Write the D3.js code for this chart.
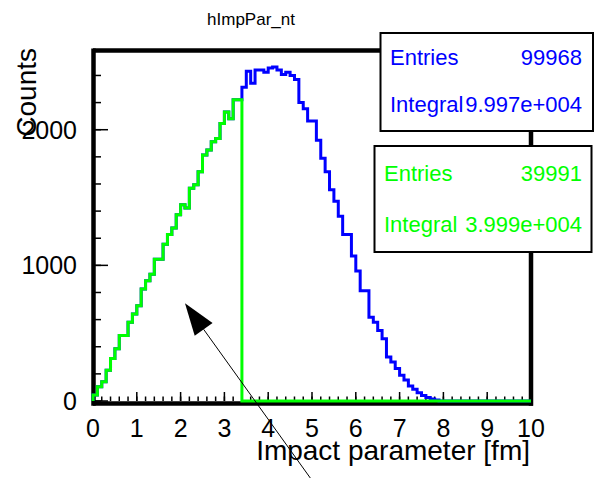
<!DOCTYPE html>
<html>
<head>
<meta charset="utf-8">
<script src="https://cdn.jsdelivr.net/npm/d3@7"></script>
<style>
  body { margin: 0; background: #fff; }
  svg { display: block; font-family: "Liberation Sans", Arial, sans-serif; }
</style>
</head>
<body>
<svg id="chart" width="594" height="478"></svg>
<script>
"use strict";

// histogram binning (100 bins, 0..10 fm)
const binLow = 0;
const binHigh = 10;
const nBins = 100;

// green histogram: bins 0..33 (b < 3.4), empty above
const greenCounts = [44, 105, 142, 227, 313, 386, 483, 483, 581, 642,
    703, 825, 886, 935, 1045, 1045, 1155, 1228, 1276, 1374,
    1447, 1423, 1569, 1594, 1691, 1814, 1850, 1911, 1935, 2045,
    2131, 2080, 2221, 2221];

// blue histogram above the cut: bins 34..78 (same as green below)
const blueUpper = [2313, 2431, 2343, 2441, 2441, 2424, 2455, 2462, 2441, 2407,
    2424, 2400, 2370, 2200, 2155, 2065, 2065, 1923, 1789, 1691,
    1557, 1472, 1362, 1228, 1228, 1069, 959, 813, 813, 617,
    581, 520, 459, 324, 288, 239, 190, 154, 110, 86,
    61, 40, 25, 15, 8];

const xTickValues = [0, 1, 2, 3, 4, 5, 6, 7, 8, 9, 10];
const yTickValues = [0, 1000, 2000];

const statsBlue = [["Entries", "99968"], ["Integral", "9.997e+004"]];
const statsGreen = [["Entries", "39991"], ["Integral", "3.999e+004"]];

// arrow annotation, in data units: [x, y]
const arrowTail = [5.0, -585];
const arrowTip = [2.1, 720];

const yMax = 2584;

function padBins(arr) {
    const out = arr.slice();
    while (out.length < nBins) out.push(0);
    return out;
}

const blueCounts = padBins(greenCounts.concat(blueUpper));
const greenFull = padBins(greenCounts);

const svg = d3.select("#chart");
const frame = { left: 93, right: 531, top: 50.5, bottom: 401 };

const x = d3.scaleLinear().domain([binLow, binHigh]).range([frame.left, frame.right]);
const y = d3.scaleLinear().domain([0, yMax]).range([frame.bottom, frame.top]);

// frame
const fr = svg.append("g").attr("stroke", "#000").attr("stroke-width", 4.5);
fr.append("line").attr("x1", frame.left).attr("x2", frame.right + 2)
    .attr("y1", frame.top).attr("y2", frame.top);
fr.append("line").attr("x1", frame.left).attr("x2", frame.right + 2)
    .attr("y1", frame.bottom + 2.5).attr("y2", frame.bottom + 2.5);
fr.append("line").attr("x1", frame.left + 0.5).attr("x2", frame.left + 0.5)
    .attr("y1", frame.top - 2).attr("y2", frame.bottom + 4.7);
fr.append("line").attr("x1", frame.right).attr("x2", frame.right)
    .attr("y1", frame.top - 2).attr("y2", frame.bottom + 4.7);

// ticks: x major/minor
const ticks = svg.append("g").attr("stroke", "#000").attr("stroke-width", 1.5);
const xMinor = d3.range(binLow, binHigh + 0.001, 0.2);
ticks.selectAll(".xmin").data(xMinor).enter().append("line")
    .attr("x1", d => x(d)).attr("x2", d => x(d))
    .attr("y1", frame.bottom).attr("y2", frame.bottom - 4.5);
ticks.selectAll(".xmaj").data(xTickValues).enter().append("line")
    .attr("x1", d => x(d)).attr("x2", d => x(d))
    .attr("y1", frame.bottom).attr("y2", frame.bottom - 9);
const yMinor = d3.range(0, yMax, 200);
ticks.selectAll(".ymin").data(yMinor).enter().append("line")
    .attr("x1", frame.left).attr("x2", frame.left + 8)
    .attr("y1", d => y(d)).attr("y2", d => y(d));
ticks.selectAll(".ymaj").data(yTickValues).enter().append("line")
    .attr("x1", frame.left).attr("x2", frame.left + 15)
    .attr("y1", d => y(d)).attr("y2", d => y(d));

// tick labels
svg.append("g").selectAll("text").data(xTickValues).enter().append("text")
    .attr("x", d => x(d)).attr("y", 436.5)
    .attr("text-anchor", "middle").attr("font-size", 25).attr("fill", "#000")
    .text(d => d);
svg.append("g").selectAll("text").data(yTickValues).enter().append("text")
    .attr("x", 77).attr("y", d => y(d) + 9)
    .attr("text-anchor", "end").attr("font-size", 25).attr("fill", "#000")
    .text(d => d);

// axis titles
svg.append("text").attr("x", 530).attr("y", 460)
    .attr("text-anchor", "end").attr("font-size", 28).attr("fill", "#000")
    .text("Impact parameter [fm]");
svg.append("text").attr("transform", "translate(36,48) rotate(-90)")
    .attr("text-anchor", "end").attr("font-size", 28).attr("fill", "#000")
    .text("Counts");

// title
svg.append("text").attr("x", 251).attr("y", 25)
    .attr("text-anchor", "middle").attr("font-size", 17).attr("fill", "#000")
    .text("hImpPar_nt");

// histograms as step outlines
const bw = (binHigh - binLow) / nBins;
function stepPoints(counts) {
    const pts = [[binLow, 0]];
    counts.forEach((c, i) => {
        pts.push([binLow + i * bw, c]);
        pts.push([binLow + (i + 1) * bw, c]);
    });
    pts.push([binHigh, 0]);
    return pts;
}
const line = d3.line().x(d => x(d[0])).y(d => y(d[1]));

svg.append("path").datum(stepPoints(blueCounts))
    .attr("d", line).attr("fill", "none")
    .attr("stroke", "#0000ff").attr("stroke-width", 3);
svg.append("path").datum(stepPoints(greenFull))
    .attr("d", line).attr("fill", "none")
    .attr("stroke", "#00ff00").attr("stroke-width", 3);

// arrow
const tx = x(arrowTip[0]), ty = y(arrowTip[1]);
const sx = x(arrowTail[0]), sy = y(arrowTail[1]);
const len = Math.hypot(tx - sx, ty - sy);
const ux = (tx - sx) / len, uy = (ty - sy) / len;
const headLen = 32, headHalf = 11;
const bx = tx - ux * headLen, by = ty - uy * headLen;
svg.append("line").attr("x1", sx).attr("y1", sy).attr("x2", bx).attr("y2", by)
    .attr("stroke", "#000").attr("stroke-width", 1);
svg.append("path")
    .attr("d", `M${tx},${ty}L${bx - uy * headHalf},${by + ux * headHalf}L${bx + uy * headHalf},${by - ux * headHalf}Z`)
    .attr("fill", "#000");

// stats boxes
function statsBox(rows, color, box, textX, baselines) {
    const g = svg.append("g");
    g.append("rect").attr("x", box[0]).attr("y", box[1])
        .attr("width", box[2]).attr("height", box[3])
        .attr("fill", "#fff").attr("stroke", "#000").attr("stroke-width", 2);
    rows.forEach((r, i) => {
        g.append("text").attr("x", textX).attr("y", baselines[i])
            .attr("font-size", 22).attr("fill", color).text(r[0]);
        g.append("text").attr("x", 582).attr("y", baselines[i])
            .attr("text-anchor", "end")
            .attr("font-size", 22).attr("fill", color).text(r[1]);
    });
}
statsBox(statsBlue, "#0000ff", [380.5, 33, 212.5, 98], 390, [65, 112]);
statsBox(statsGreen, "#00ff00", [374.5, 146, 217, 106], 384, [181, 232]);
</script>
</body>
</html>
